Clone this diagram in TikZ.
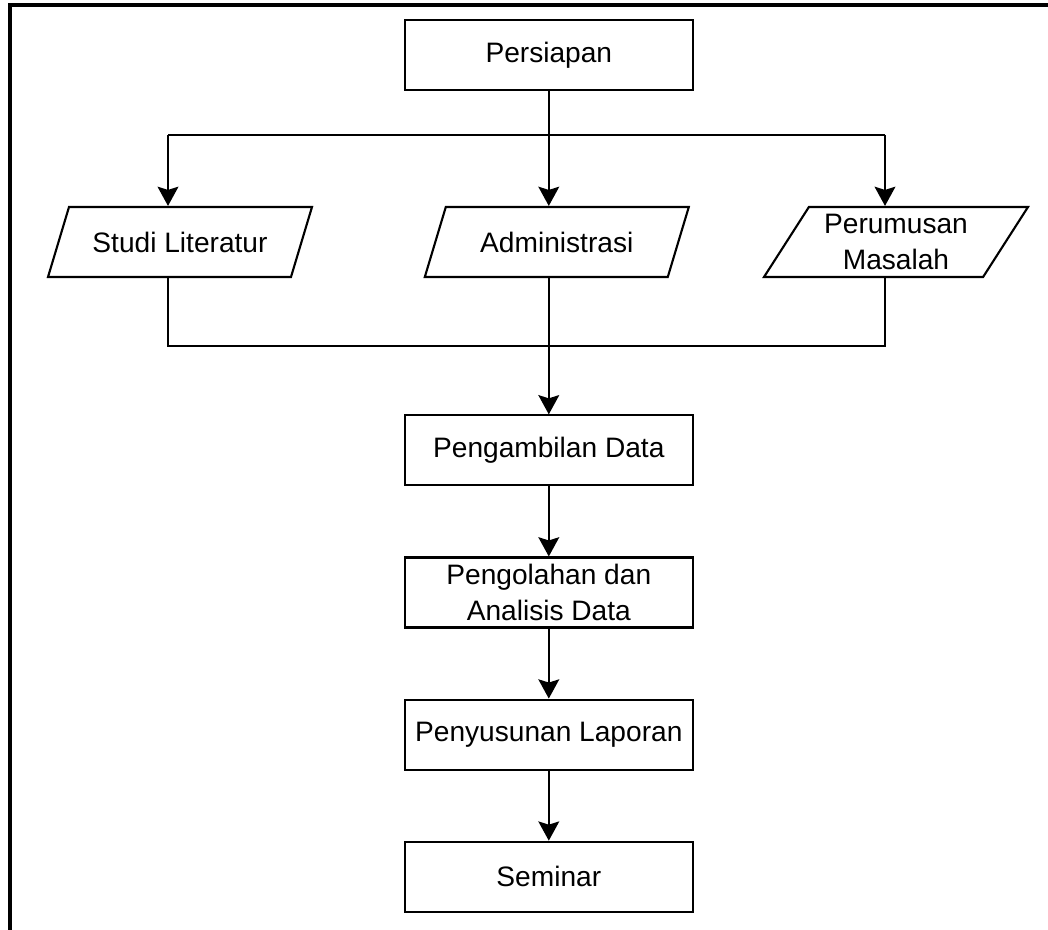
\documentclass[tikz,border=0pt]{standalone}
\usepackage{fontspec}
\setmainfont{Liberation Sans}
\usepackage{tikz}
\usetikzlibrary{positioning, arrows.meta, shapes.geometric}

\begin{document}
\begin{tikzpicture}[
        font=\fontsize{20}{25}\selectfont,
        process/.style={draw, line width=1.5pt, minimum width=7.2cm, minimum height=1.75cm, align=center},
        io/.style={draw, line width=1.5pt, trapezium, trapezium left angle=55, trapezium right angle=125, trapezium stretches body, minimum width=6.6cm, minimum height=1.75cm, align=center, inner xsep=0pt},
        arr/.style={line width=1.5pt, -{Stealth[length=0.48cm, width=0.52cm, inset=0.08cm]}},
        link/.style={line width=1.5pt}
    ]
        \useasboundingbox (0,0) rectangle (26.2,-23.25);
        \draw [line width=3pt] (0.25,-23.25) -- (0.25,-0.125) -- (26.2,-0.125);

        \node (Persiapan) [process] at (13.72,-1.38) {Persiapan};
        \node (Studi) [io] at (4.5,-6.05) {Studi Literatur};
        \node (Admin) [io] at (13.92,-6.05) {Administrasi};
        \node (Rumusan) [io] at (22.4,-6.05) {Perumusan\\Masalah};
        \node (Ambil) [process] at (13.72,-11.26) {Pengambilan Data};
        \node (Olah) [process, below=1.75cm of Ambil] {Pengolahan dan\\Analisis Data};
        \node (Susun) [process, below=1.75cm of Olah] {Penyusunan Laporan};
        \node (Seminar) [process, below=1.75cm of Susun] {Seminar};

        % cabang dari persiapan
        \coordinate (SplitL) at (4.2,-3.375);
        \coordinate (SplitR) at (22.125,-3.375);
        \draw [link] (SplitL) -- (SplitR);
        \draw [arr] (Persiapan) -- (Admin.north -| Persiapan);
        \draw [arr] (SplitL) -- (SplitL |- Studi.north);
        \draw [arr] (SplitR) -- (SplitR |- Rumusan.north);

        % gabungan ke pengambilan data
        \coordinate (JoinL) at (4.2,-8.65);
        \coordinate (JoinR) at (22.125,-8.65);
        \draw [link] (JoinL |- Studi.south) -- (JoinL) -- (JoinR) -- (JoinR |- Rumusan.south);
        \draw [arr] (Admin.south -| Ambil) -- (Ambil);

        \draw [arr] (Ambil) -- (Olah);
        \draw [arr] (Olah) -- (Susun);
        \draw [arr] (Susun) -- (Seminar);
    \end{tikzpicture}
\end{document}
